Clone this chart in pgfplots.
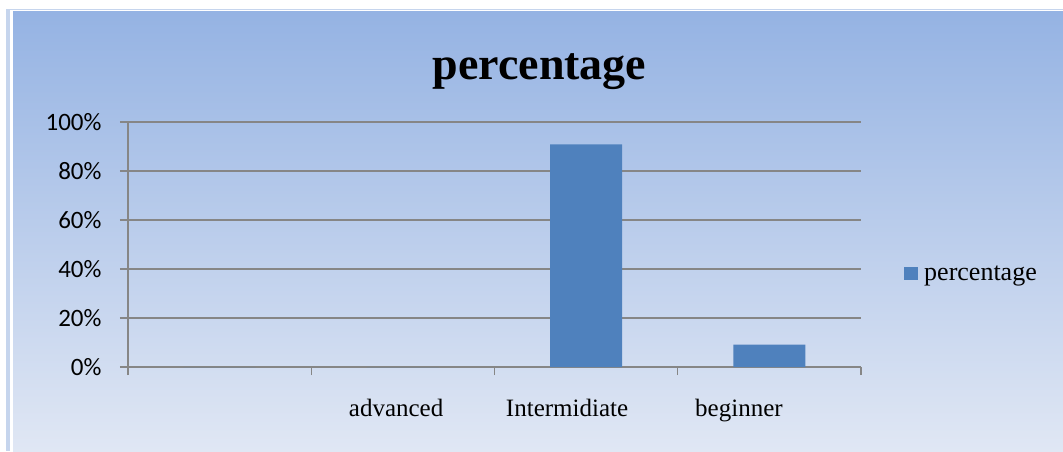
\documentclass[border=0pt]{standalone}
\usepackage{fontspec}
\setmainfont{Liberation Serif}
\newfontfamily\calibri{Carlito}
\usepackage{pgfplots}
\pgfplotsset{compat=1.18}
\definecolor{barblue}{HTML}{4F81BD}
\definecolor{gridgray}{HTML}{868686}
\definecolor{bgtop}{HTML}{95B3E3}
\definecolor{bgbot}{HTML}{E0E7F4}
\definecolor{frameblue}{HTML}{C6D5ED}
\begin{document}
\begin{tikzpicture}[x=1pt,y=1pt]
\fill[white] (0,0) rectangle (1063,451);
\fill[frameblue] (6,0) rectangle (1063,442);
\fill[white] (10,0) rectangle (1063,441);
\fill[top color=bgtop, bottom color=bgbot] (13,0) rectangle (1063,439);
\begin{axis}[
  at={(128pt,84pt)}, anchor=south west,
  scale only axis, width=733pt, height=245pt,
  xmin=-0.5, xmax=3.5, ymin=0, ymax=100,
  axis x line*=bottom, axis y line*=left,
  axis line style={gridgray, line width=1.3pt},
  tick style={gridgray, line width=1.3pt},
  tick align=outside, major tick length=8pt,
  ymajorgrids, grid style={gridgray, line width=1.3pt},
  ytick={0,20,40,60,80,100},
  yticklabels={0\%,20\%,40\%,60\%,80\%,100\%},
  yticklabel style={font=\calibri\fontsize{25}{30}\selectfont, xshift=-15pt},
  xtick={-0.5,0.5,1.5,2.5,3.5},
  xticklabels={,,,,},
  extra x ticks={0.963,1.896,2.834},
  extra x tick labels={advanced,Intermidiate,beginner},
  extra x tick style={major tick length=0pt, xticklabel style={font=\fontsize{25}{30}\selectfont, yshift=-29pt}},
  title={percentage},
  title style={font=\bfseries\fontsize{46}{50}\selectfont, at={(0.5614,1.151)}, anchor=base},
  legend style={at={(1.0587,0.380)}, anchor=west, draw=none, fill=none, inner sep=0pt, font=\fontsize{26}{30}\selectfont},
]
\addplot[ybar, bar width=72pt, fill=barblue, draw=none,
  legend image code/.code={\fill[barblue] (0pt,-6.5pt) rectangle (14pt,6.5pt);}]
  coordinates {(0,0) (1,0) (2,90.9) (3,9.1)};
\addlegendentry{\hspace{4pt}percentage}
\end{axis}
\end{tikzpicture}
\end{document}
